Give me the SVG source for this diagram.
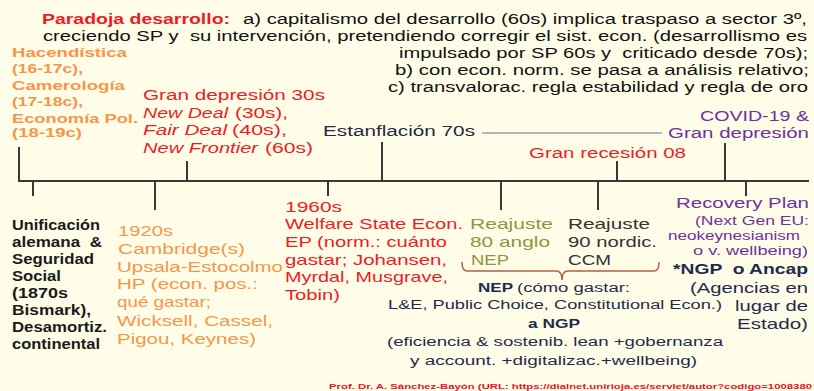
<svg xmlns="http://www.w3.org/2000/svg" width="814" height="391" viewBox="0 0 814 391">
<style>
text{font-family:"Liberation Sans",Arial,sans-serif;white-space:pre}
.t{font-size:15.5px;fill:#111}
.red{fill:#ee1c25}
.or{fill:#f7964a}
.orb{fill:#f7964a;font-weight:bold;font-size:13.5px}
.blk{fill:#1a1a1a;font-weight:bold;font-size:14px}
.pur{fill:#7030a0}
.nv{fill:#1f2b4d}
.ol{fill:#939343}
.ax{stroke:#383838;stroke-width:2;fill:none}
</style>
<rect width="814" height="391" fill="#fffde8"/>
<g id="connectors">
<line class="ax" x1="18" y1="181" x2="809" y2="181"/>
<line class="ax" x1="19" y1="147" x2="19" y2="181"/>
<line class="ax" x1="187" y1="161" x2="187" y2="181"/>
<line class="ax" x1="382" y1="142" x2="382" y2="181"/>
<line class="ax" x1="617" y1="161" x2="617" y2="181"/>
<line class="ax" x1="725" y1="143" x2="725" y2="181"/>
<line class="ax" x1="33" y1="181" x2="33" y2="196"/>
<line class="ax" x1="155" y1="181" x2="155" y2="210"/>
<line class="ax" x1="328" y1="181" x2="328" y2="196"/>
<line class="ax" x1="501" y1="181" x2="501" y2="210"/>
<line class="ax" x1="598" y1="181" x2="598" y2="210"/>
<line class="ax" x1="746" y1="181" x2="746" y2="196"/>
<line x1="482" y1="133" x2="662" y2="133" stroke="#5a7090" stroke-width="1.2"/>
<path d="M462,262 Q462,271 467,271 L556,271 Q562,271 562,280 Q562,271 568,271 L654,271 Q659,271 659,262" fill="none" stroke="#b85c48" stroke-width="1.5"/>
</g>
<g id="title" class="t">
<text x="42" y="24" class="red" font-weight="bold" textLength="188" lengthAdjust="spacingAndGlyphs">Paradoja desarrollo:</text>
<text x="243" y="24" textLength="564" lengthAdjust="spacingAndGlyphs">a) capitalismo del desarrollo (60s) implica traspaso a sector 3º,</text>
<text x="43" y="40.5" textLength="764" lengthAdjust="spacingAndGlyphs" xml:space="preserve">creciendo SP y  su intervención, pretendiendo corregir el sist. econ. (desarrollismo es</text>
<text x="399" y="58" textLength="409" lengthAdjust="spacingAndGlyphs" xml:space="preserve">impulsado por SP 60s y  criticado desde 70s);</text>
<text x="395" y="75" textLength="414" lengthAdjust="spacingAndGlyphs">b) con econ. norm. se pasa a análisis relativo;</text>
<text x="388" y="92" textLength="420" lengthAdjust="spacingAndGlyphs">c) transvalorac. regla estabilidad y regla de oro</text>
</g>
<g id="hacendistica" class="orb">
<text x="12" y="56.5" textLength="115" lengthAdjust="spacingAndGlyphs">Hacendística</text>
<text x="12" y="73" textLength="71" lengthAdjust="spacingAndGlyphs">(16-17c),</text>
<text x="12" y="89.5" textLength="113" lengthAdjust="spacingAndGlyphs">Camerología</text>
<text x="12" y="106" textLength="71" lengthAdjust="spacingAndGlyphs">(17-18c),</text>
<text x="12" y="122.5" textLength="126" lengthAdjust="spacingAndGlyphs">Economía Pol.</text>
<text x="12" y="137" textLength="70" lengthAdjust="spacingAndGlyphs">(18-19c)</text>
</g>
<g id="gran-depresion-30s" class="red" font-size="15.5">
<text x="143" y="99.5" textLength="182" lengthAdjust="spacingAndGlyphs">Gran depresión 30s</text>
<text x="143" y="117.5" font-style="italic" textLength="85" lengthAdjust="spacingAndGlyphs">New Deal</text>
<text x="235" y="117.5" textLength="53" lengthAdjust="spacingAndGlyphs">(30s),</text>
<text x="143" y="135" font-style="italic" textLength="84" lengthAdjust="spacingAndGlyphs">Fair Deal</text>
<text x="232" y="135" textLength="55" lengthAdjust="spacingAndGlyphs">(40s),</text>
<text x="143" y="152.5" font-style="italic" textLength="115" lengthAdjust="spacingAndGlyphs">New Frontier</text>
<text x="265" y="152.5" textLength="48" lengthAdjust="spacingAndGlyphs">(60s)</text>
</g>
<g id="estanflacion" font-size="15.5">
<text x="323" y="136" fill="#1f2a44" textLength="152" lengthAdjust="spacingAndGlyphs">Estanflación 70s</text>
</g>
<g id="gran-recesion" font-size="15.5">
<text x="529" y="158" class="red" textLength="157" lengthAdjust="spacingAndGlyphs">Gran recesión 08</text>
</g>
<g id="covid" class="pur" font-size="15.5">
<text x="700" y="121" textLength="109" lengthAdjust="spacingAndGlyphs">COVID-19 &amp;</text>
<text x="668" y="138" textLength="141" lengthAdjust="spacingAndGlyphs">Gran depresión</text>
</g>
<g id="unificacion" class="blk">
<text x="12" y="230" textLength="88" lengthAdjust="spacingAndGlyphs">Unificación</text>
<text x="12" y="247" textLength="90" lengthAdjust="spacingAndGlyphs" xml:space="preserve">alemana  &amp;</text>
<text x="12" y="264" textLength="82" lengthAdjust="spacingAndGlyphs">Seguridad</text>
<text x="12" y="281" textLength="49" lengthAdjust="spacingAndGlyphs">Social</text>
<text x="12" y="298" textLength="56" lengthAdjust="spacingAndGlyphs">(1870s</text>
<text x="12" y="315" textLength="79" lengthAdjust="spacingAndGlyphs">Bismark),</text>
<text x="12" y="332" textLength="95" lengthAdjust="spacingAndGlyphs">Desamortiz.</text>
<text x="12" y="349" textLength="88" lengthAdjust="spacingAndGlyphs">continental</text>
</g>
<g id="n1920s" class="or" font-size="14.5">
<text x="118" y="236" textLength="55" lengthAdjust="spacingAndGlyphs">1920s</text>
<text x="118" y="253.5" textLength="127" lengthAdjust="spacingAndGlyphs">Cambridge(s)</text>
<text x="117" y="271.5" textLength="166" lengthAdjust="spacingAndGlyphs">Upsala-Estocolmo</text>
<text x="117" y="289" textLength="141" lengthAdjust="spacingAndGlyphs">HP (econ. pos.:</text>
<text x="117" y="306.5" textLength="94" lengthAdjust="spacingAndGlyphs">qué gastar;</text>
<text x="117" y="326" textLength="156" lengthAdjust="spacingAndGlyphs">Wicksell, Cassel,</text>
<text x="117" y="344" textLength="139" lengthAdjust="spacingAndGlyphs">Pigou, Keynes)</text>
</g>
<g id="n1960s" class="red" font-size="14.5">
<text x="285" y="211.5" textLength="57" lengthAdjust="spacingAndGlyphs">1960s</text>
<text x="285" y="229" textLength="178" lengthAdjust="spacingAndGlyphs">Welfare State Econ.</text>
<text x="285" y="247" textLength="162" lengthAdjust="spacingAndGlyphs">EP (norm.: cuánto</text>
<text x="285" y="264.5" textLength="162" lengthAdjust="spacingAndGlyphs">gastar; Johansen,</text>
<text x="285" y="282" textLength="163" lengthAdjust="spacingAndGlyphs">Myrdal, Musgrave,</text>
<text x="285" y="300" textLength="55" lengthAdjust="spacingAndGlyphs">Tobin)</text>
</g>
<g id="reajuste80" class="ol" font-size="14.5">
<text x="470" y="229" textLength="83" lengthAdjust="spacingAndGlyphs">Reajuste</text>
<text x="470" y="247" textLength="80" lengthAdjust="spacingAndGlyphs">80 anglo</text>
<text x="471" y="264.5" textLength="38" lengthAdjust="spacingAndGlyphs">NEP</text>
</g>
<g id="reajuste90" fill="#333" font-size="14.5">
<text x="568" y="229" textLength="82" lengthAdjust="spacingAndGlyphs">Reajuste</text>
<text x="568" y="247" textLength="89" lengthAdjust="spacingAndGlyphs">90 nordic.</text>
<text x="568" y="264.5" textLength="43" lengthAdjust="spacingAndGlyphs">CCM</text>
</g>
<g id="recovery" class="pur">
<text x="676" y="208" font-size="15" textLength="133" lengthAdjust="spacingAndGlyphs">Recovery Plan</text>
<text x="695" y="225" font-size="12" textLength="114" lengthAdjust="spacingAndGlyphs">(Next Gen EU:</text>
<text x="668" y="240" font-size="12" textLength="132" lengthAdjust="spacingAndGlyphs">neokeynesianism</text>
<text x="693" y="255" font-size="12" textLength="115" lengthAdjust="spacingAndGlyphs">o v. wellbeing)</text>
</g>
<g id="ngp" class="nv" font-size="14.5">
<text x="673" y="274" font-weight="bold" textLength="135" lengthAdjust="spacingAndGlyphs" xml:space="preserve">*NGP  o Ancap</text>
<text x="690" y="293" textLength="118" lengthAdjust="spacingAndGlyphs">(Agencias en</text>
<text x="735" y="311" textLength="73" lengthAdjust="spacingAndGlyphs">lugar de</text>
<text x="737" y="329" textLength="71" lengthAdjust="spacingAndGlyphs">Estado)</text>
</g>
<g id="nep" class="nv" font-size="12">
<text x="478" y="291.5" font-weight="bold" textLength="35" lengthAdjust="spacingAndGlyphs">NEP</text>
<text x="517" y="291.5" textLength="113" lengthAdjust="spacingAndGlyphs">(cómo gastar:</text>
<text x="388" y="309" textLength="334" lengthAdjust="spacingAndGlyphs">L&amp;E, Public Choice, Constitutional Econ.)</text>
<text x="528" y="327.5" font-weight="bold" textLength="52" lengthAdjust="spacingAndGlyphs">a NGP</text>
<text x="387" y="346" textLength="336" lengthAdjust="spacingAndGlyphs">(eficiencia &amp; sostenib. lean +gobernanza</text>
<text x="410" y="364.5" textLength="287" lengthAdjust="spacingAndGlyphs">y account. +digitalizac.+wellbeing)</text>
</g>
<g id="footer">
<text x="329" y="389" font-size="8" font-weight="bold" fill="#e8141e" textLength="483" lengthAdjust="spacingAndGlyphs">Prof. Dr. A. Sánchez-Bayón (URL: https://dialnet.unirioja.es/servlet/autor?codigo=1008380</text>
</g>
</svg>
